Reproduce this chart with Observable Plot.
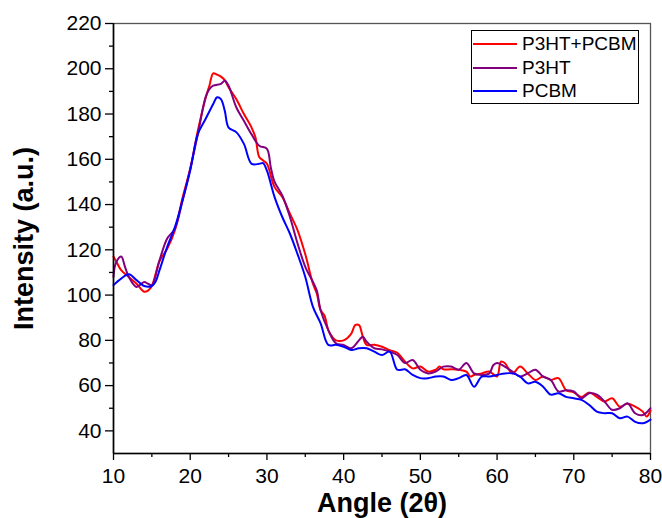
<!DOCTYPE html>
<html>
<head>
<meta charset="utf-8">
<script src="https://cdn.jsdelivr.net/npm/d3@7"></script>
<script src="https://cdn.jsdelivr.net/npm/@observablehq/plot@0.6"></script>
<style>
  html, body { margin: 0; padding: 0; background: #fff; }
  #wrap { position: relative; width: 662px; height: 518px; font-family: "Liberation Sans", Arial, sans-serif; }
  #wrap svg { font-family: "Liberation Sans", Arial, sans-serif; }
  #wrap svg [aria-label="x-axis label"] text,
  #wrap svg [aria-label="y-axis label"] text { font-size: 27px; font-weight: bold; fill: #000; }
  #legend { position: absolute; left: 471px; top: 30px; width: 168px; height: 74px; border: 1.3px solid #000; background: #fff; box-sizing: border-box; }
  .row { position: absolute; left: 1px; height: 22px; display: flex; align-items: center; font-size: 19px; color: #000; }
  .row span.sw { display: inline-block; width: 44px; height: 0; border-top: 2px solid; margin-right: 5px; }
</style>
</head>
<body>
<div id="wrap"></div>
<script>
const seriesNames = ["P3HT+PCBM", "P3HT", "PCBM"];
const seriesColors = ["#ff0000", "#800080", "#0000ff"];
const xTicks = [10, 20, 30, 40, 50, 60, 70, 80];
const yTicks = [40, 60, 80, 100, 120, 140, 160, 180, 200, 220];

const p3htPcbm = [[10,117],[10.5,114],[11,111],[12,108],[13,105],[14,101.5],[14.5,102],[15,104],[16,115],[17,120.5],[18,128.6],[19,143],[20,155.8],[21,172.7],[22,187],[22.5,192.5],[23,198],[23.5,197.4],[24,196.5],[24.5,195],[25,191.8],[26,186.6],[27,180],[28,174],[28.5,169.7],[29,161],[29.5,159.5],[30,158],[31,147.7],[32,143.3],[33,136],[34,128.6],[35,118],[36,105],[36.5,100.7],[37,93.3],[37.5,91],[38,84.5],[38.5,81.6],[39,80],[40,80],[41,83],[41.5,86.7],[42,86.7],[42.5,81.6],[43,78],[44,78],[45,77.2],[46,75.7],[47,74.5],[48,70.6],[49,67.6],[50,68.4],[51,66.2],[52,67],[52.5,68.4],[53,67.2],[54,67.2],[55,67],[56,66.2],[56.5,64],[57,64.7],[58,65.4],[59,66.2],[60,64],[60.5,70.6],[61,70],[62,65.4],[63,68.4],[64,65.4],[65,62.5],[66,64],[67,62.5],[68,63.3],[69,58],[70,57],[71,55],[72,57],[73,55],[74,53],[75,54.4],[76,50.7],[77,52],[78,50.7],[79,48.5],[79.5,46.3],[80,49]];

const p3ht = [[10,108],[10.3,114],[11,117],[11.5,112.5],[12,108],[13,103.6],[14,105.8],[14.5,105],[15,104.4],[16,115.4],[17,125],[18,129.3],[19,141.8],[20,155.8],[21,171.2],[22,187.4],[22.5,191],[23,192.5],[24,193.3],[24.5,194.7],[25,192.5],[26,183],[27,177],[28,171],[29,166],[30,164.6],[30.5,156.5],[31,150],[32,144],[33,134.5],[34,122.7],[35,112.5],[36,105.8],[36.5,102],[37,93.3],[38,84.5],[39,78.7],[40,78],[41,76.5],[42,80],[42.5,81.6],[43,79.4],[44,76.5],[45,76],[46,75],[47,73.5],[48,70],[49,71.3],[50,67],[51,65.4],[52,66.2],[53,68.4],[54,68.4],[55,67],[56,70],[57,65.4],[58,64.7],[59,65.4],[59.5,69],[60,70],[61,68.4],[62,66.2],[63,64],[64,65.4],[65,67],[66,64],[67,62.5],[68,57.4],[69,58],[70,57.4],[71,54.4],[72,56.6],[73,56],[74,53],[75,49.3],[76,50],[77,52.2],[78,47.8],[79,47],[80,50]];

const pcbm = [[10,104.4],[11,107.3],[12,109.2],[13,106.6],[14,104],[15,104],[15.5,106],[16,111],[17,121.3],[18,130],[19,141.8],[20,155],[21,171.2],[22,177.8],[23,184.4],[23.5,187.4],[24,186.6],[24.5,181.5],[25,174],[26,172],[27,166.8],[28,158],[29,158],[29.5,158.3],[30,155],[31,143.3],[32,134.5],[33,127.1],[34,118],[35,108],[36,94.8],[37,87.5],[38,78],[39,78],[40,77.2],[41,75.7],[42,76.5],[43,76.5],[44,75],[45,73.5],[46,75],[47,67],[48,67.2],[49,64.7],[50,63.3],[51,63.3],[52,64],[53,64],[54,62.5],[55,63.3],[56,64.7],[57,59.5],[58,64],[59,64],[60,64.7],[61,65.4],[62,65.4],[63,64],[64,61],[65,61.7],[66,59.5],[67,56],[68,56.6],[69,55],[70,54.4],[71,53.7],[72,51.5],[73,48.5],[74,47.8],[75,47.8],[76,45.6],[77,46.3],[78,44],[79,43.4],[80,45]];

const allSeries = [p3htPcbm, p3ht, pcbm];
const rows = allSeries.flatMap((s, i) => s.map(([a, v]) => ({angle: a, intensity: v, series: seriesNames[i]})));
const xMinor = d3.range(15, 80, 10);
const yMinor = d3.range(50, 220, 20);

const chart = Plot.plot({
  width: 662,
  height: 518,
  marginLeft: 113,
  marginRight: 12,
  marginTop: 23,
  marginBottom: 65,
  x: {domain: [10, 80]},
  y: {domain: [30, 220]},
  color: {domain: seriesNames, range: seriesColors},
  marks: [
    Plot.frame({stroke: "#555", strokeWidth: 1.3}),
    Plot.line(rows, {x: "angle", y: "intensity", z: "series", stroke: "series", strokeWidth: 2, curve: "catmull-rom"}),
    Plot.axisX(xTicks, {tickSize: 7, tickPadding: 8, fontSize: 21, stroke: "#000", strokeWidth: 1.3, label: "Angle (2θ)", labelAnchor: "center", labelArrow: "none", labelOffset: 58}),
    Plot.axisX(xMinor, {tickSize: 4, tickFormat: () => "", stroke: "#000", strokeWidth: 1.3, label: null}),
    Plot.axisY(yTicks, {tickSize: 8, tickPadding: 4, fontSize: 21, stroke: "#000", strokeWidth: 1.3, label: "Intensity (a.u.)", labelAnchor: "center", labelArrow: "none", labelOffset: 100}),
    Plot.axisY(yMinor, {tickSize: 4, tickFormat: () => "", stroke: "#000", strokeWidth: 1.3, label: null}),
    Plot.ruleX([10], {stroke: "#000", strokeWidth: 1.6}),
    Plot.ruleY([30], {stroke: "#000", strokeWidth: 1.6})
  ]
});

const wrap = document.getElementById("wrap");
wrap.appendChild(chart);

const legend = document.createElement("div");
legend.id = "legend";
seriesNames.forEach((name, i) => {
  const r = document.createElement("div");
  r.className = "row";
  r.style.top = (2 + i * 23.5) + "px";
  const sw = document.createElement("span");
  sw.className = "sw";
  sw.style.borderColor = seriesColors[i];
  r.appendChild(sw);
  r.appendChild(document.createTextNode(name));
  legend.appendChild(r);
});
wrap.appendChild(legend);
</script>
</body>
</html>
